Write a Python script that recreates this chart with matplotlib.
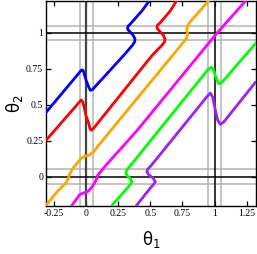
import numpy as np
import matplotlib
matplotlib.use("Agg")
import matplotlib.pyplot as plt

# curves: (theta1, theta2) pairs
blue_t1 = [-0.312, -0.06, -0.04, -0.031, -0.021, -0.01, 0.0, 0.021, 0.034, 0.05, 0.078,
           0.291, 0.362, 0.378, 0.380, 0.368, 0.345, 0.327, 0.322, 0.328, 0.345, 0.434, 0.491]
blue_t2 = [0.446, 0.715, 0.737, 0.742, 0.735, 0.70, 0.67, 0.621, 0.599, 0.605, 0.633,
           0.841, 0.915, 0.937, 0.958, 0.980, 1.004, 1.020, 1.033, 1.047, 1.062, 1.152, 1.221]

red_t1 = [-0.304, -0.06, -0.039, -0.026, -0.01, 0.0, 0.021, 0.031, 0.04, 0.057,
          0.512, 0.592, 0.610, 0.614, 0.602, 0.576, 0.556, 0.551, 0.556, 0.575, 0.655, 0.702]
red_t2 = [0.26, 0.51, 0.532, 0.52, 0.46, 0.42, 0.368, 0.33, 0.322, 0.334,
          0.841, 0.915, 0.937, 0.958, 0.982, 1.008, 1.026, 1.042, 1.054, 1.068, 1.152, 1.221]

orange_t1 = [-0.307, -0.234, -0.156, -0.14, -0.125, -0.10, -0.039, -0.01, 0.026, 0.06,
             0.13, 0.32, 0.772, 0.786, 0.789, 0.784, 0.786, 0.803, 0.952]
orange_t2 = [-0.195, -0.114, -0.043, -0.015, 0.022, 0.06, 0.126, 0.142, 0.149, 0.175,
             0.253, 0.46, 0.950, 0.972, 0.995, 1.018, 1.040, 1.069, 1.221]

magenta_t1 = [-0.117, -0.052, -0.026, 0.013, 0.04, 0.065, 0.08, 0.091, 0.156, 0.398, 1.012, 1.24]
magenta_t2 = [-0.209, -0.128, -0.116, -0.105, -0.08, -0.047, -0.02, 0.010, 0.080, 0.322, 0.991, 1.221]

green_t1 = [0.199, 0.33, 0.35, 0.356, 0.345, 0.32, 0.31, 0.315, 0.34, 0.567,
            0.95, 0.975, 0.988, 1.006, 1.019, 1.032, 1.058, 1.326]
green_t2 = [-0.204, -0.07, -0.05, -0.035, -0.015, 0.005, 0.025, 0.045, 0.07, 0.322,
            0.745, 0.76, 0.749, 0.702, 0.668, 0.645, 0.656, 0.933]

purple_t1 = [0.39, 0.50, 0.53, 0.538, 0.52, 0.49, 0.473, 0.478, 0.50, 0.603,
             0.94, 0.967, 0.985, 1.006, 1.024, 1.045, 1.071, 1.318]
purple_t2 = [-0.204, -0.08, -0.05, -0.035, -0.01, 0.01, 0.03, 0.05, 0.07, 0.183,
             0.555, 0.58, 0.552, 0.46, 0.391, 0.363, 0.379, 0.656]

curves = [
    (blue_t1, blue_t2, "#0000ff"),
    (red_t1, red_t2, "#ff0000"),
    (orange_t1, orange_t2, "#ffa500"),
    (magenta_t1, magenta_t2, "#ff00ff"),
    (green_t1, green_t2, "#00ff00"),
    (purple_t1, purple_t2, "#a020f0"),
]

x_ticks = [-0.25, 0, 0.25, 0.5, 0.75, 1, 1.25]
x_tick_labels = ["-0.25", "0", "0.25", "0.5", "0.75", "1", "1.25"]
y_ticks = [0, 0.25, 0.5, 0.75, 1]
y_tick_labels = ["0", "0.25", "0.5", "0.75", "1"]

gray_lines = [-0.05, 0.05, 0.95, 1.05]

fig = plt.figure(figsize=(2.57, 2.54), dpi=100)
ax = fig.add_axes([46 / 257, 48 / 254, 210 / 257, 205 / 254])

for v in gray_lines:
    ax.axvline(v, color="#b4b4b4", lw=1.1, zorder=1)
    ax.axhline(v, color="#b4b4b4", lw=1.1, zorder=1)

ax.axvline(0, color="#444444", lw=1.6, zorder=2)
ax.axvline(1, color="black", lw=1.1, zorder=2)
ax.axhline(0, color="black", lw=1.1, zorder=2)
ax.axhline(1, color="black", lw=1.1, zorder=2)

for t1, t2, color in curves:
    ax.plot(t1, t2, color=color, lw=2.0, solid_joinstyle="round",
            solid_capstyle="round", zorder=3)

ax.set_xlim(-0.312, 1.322)
ax.set_ylim(-0.205, 1.221)

ax.set_xticks(x_ticks)
ax.set_xticklabels(x_tick_labels, family="Liberation Serif", fontsize=7)
ax.set_yticks(y_ticks)
ax.set_yticklabels(y_tick_labels, family="Liberation Serif", fontsize=7)
ax.tick_params(direction="in", length=3.5, width=0.9, top=True, right=True, pad=2)

for spine in ax.spines.values():
    spine.set_linewidth(1.0)

ax.set_xlabel(r"$\mathregular{\theta_1}$", fontsize=12, labelpad=8)
ax.set_ylabel(r"$\mathregular{\theta_2}$", fontsize=12, labelpad=1)

fig.savefig("out.png", dpi=100)
